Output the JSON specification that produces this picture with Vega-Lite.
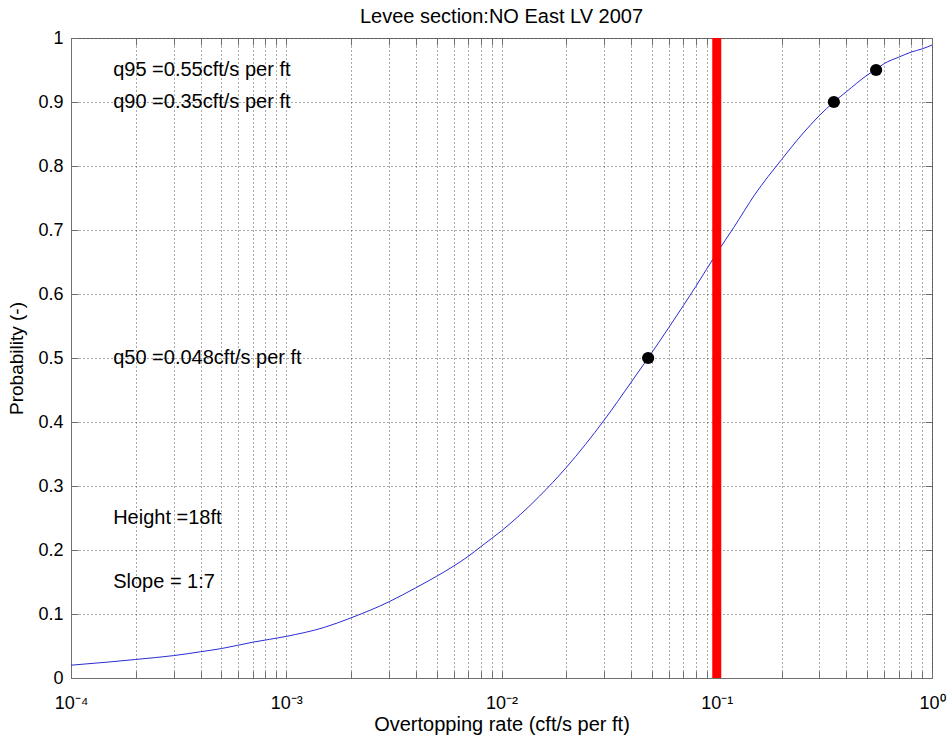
{
  "$schema": "https://vega.github.io/schema/vega-lite/v6.json",
  "width": 861,
  "height": 640,
  "autosize": {"type": "none"},
  "padding": {"left": 71, "top": 38, "right": 19, "bottom": 60},
  "background": "white",
  "config": {
    "view": {"stroke": "#707070", "strokeWidth": 1},
    "font": "Liberation Sans",
    "axis": {
      "labelFont": "Liberation Sans",
      "titleFont": "Liberation Sans",
      "labelColor": "black",
      "titleColor": "black",
      "titleFontWeight": "normal",
      "domainColor": "#707070",
      "tickColor": "#707070",
      "gridColor": "#404040",
      "gridDash": [1, 3],
      "gridOpacity": 0.9
    }
  },
  "title": {
    "text": "Levee section:NO East LV 2007",
    "font": "Liberation Sans",
    "fontSize": 20,
    "fontWeight": "normal",
    "color": "black",
    "offset": 2
  },
  "datasets": {
    "curve": [
      {"rate": 0.0001, "prob": 0.020},
      {"rate": 0.00015, "prob": 0.025},
      {"rate": 0.0002, "prob": 0.029},
      {"rate": 0.0003, "prob": 0.035},
      {"rate": 0.0004, "prob": 0.041},
      {"rate": 0.0005, "prob": 0.046},
      {"rate": 0.0007, "prob": 0.056},
      {"rate": 0.001, "prob": 0.065},
      {"rate": 0.0015, "prob": 0.079},
      {"rate": 0.002, "prob": 0.094},
      {"rate": 0.003, "prob": 0.119},
      {"rate": 0.004, "prob": 0.141},
      {"rate": 0.005, "prob": 0.159},
      {"rate": 0.006, "prob": 0.175},
      {"rate": 0.007, "prob": 0.190},
      {"rate": 0.008, "prob": 0.205},
      {"rate": 0.009, "prob": 0.218},
      {"rate": 0.01, "prob": 0.230},
      {"rate": 0.015, "prob": 0.284},
      {"rate": 0.02, "prob": 0.329},
      {"rate": 0.03, "prob": 0.403},
      {"rate": 0.04, "prob": 0.462},
      {"rate": 0.048, "prob": 0.500},
      {"rate": 0.06, "prob": 0.548},
      {"rate": 0.07, "prob": 0.582},
      {"rate": 0.08, "prob": 0.612},
      {"rate": 0.1, "prob": 0.664},
      {"rate": 0.12, "prob": 0.704},
      {"rate": 0.15, "prob": 0.755},
      {"rate": 0.2, "prob": 0.810},
      {"rate": 0.25, "prob": 0.850},
      {"rate": 0.3, "prob": 0.879},
      {"rate": 0.35, "prob": 0.9},
      {"rate": 0.4, "prob": 0.916},
      {"rate": 0.5, "prob": 0.942},
      {"rate": 0.55, "prob": 0.951},
      {"rate": 0.6, "prob": 0.960},
      {"rate": 0.7, "prob": 0.970},
      {"rate": 0.8, "prob": 0.978},
      {"rate": 0.9, "prob": 0.983},
      {"rate": 1.0, "prob": 0.989}
    ],
    "limit": [{"rate": 0.1}],
    "quantiles": [
      {"rate": 0.048, "prob": 0.5},
      {"rate": 0.35, "prob": 0.9},
      {"rate": 0.55, "prob": 0.95}
    ],
    "notes": [
      {"rate": 0.000157, "prob": 0.95, "label": "q95 =0.55cft/s per ft"},
      {"rate": 0.000157, "prob": 0.9, "label": "q90 =0.35cft/s per ft"},
      {"rate": 0.000157, "prob": 0.5, "label": "q50 =0.048cft/s per ft"},
      {"rate": 0.000157, "prob": 0.25, "label": "Height =18ft"},
      {"rate": 0.000157, "prob": 0.15, "label": "Slope = 1:7"}
    ]
  },
  "resolve": {"axis": {"x": "independent", "y": "independent"}},
  "layer": [
    {
      "data": {"name": "curve"},
      "mark": {"type": "line", "color": "#2b2bd6", "strokeWidth": 1, "interpolate": "monotone"},
      "encoding": {
        "x": {
          "field": "rate", "type": "quantitative",
          "scale": {"type": "log", "domain": [0.0001, 1], "nice": false},
          "axis": {
            "orient": "bottom",
            "title": "Overtopping rate (cft/s per ft)",
            "titleFontSize": 20,
            "titlePadding": 2,
            "labelFontSize": 18,
            "labelPadding": 23,
            "labelFlush": false,
            "tickSize": -7,
            "grid": true,
            "values": [0.0001,0.0002,0.0003,0.0004,0.0005,0.0006,0.0007,0.0008,0.0009,0.001,0.002,0.003,0.004,0.005,0.006,0.007,0.008,0.009,0.01,0.02,0.03,0.04,0.05,0.06,0.07,0.08,0.09,0.1,0.2,0.3,0.4,0.5,0.6,0.7,0.8,0.9,1],
            "labelExpr": "datum.value === 0.0001 ? '10⁻⁴' : datum.value === 0.001 ? '10⁻³' : datum.value === 0.01 ? '10⁻²' : datum.value === 0.1 ? '10⁻¹' : datum.value === 1 ? '10⁰' : ''",
            "labelOverlap": false
          }
        },
        "y": {
          "field": "prob", "type": "quantitative",
          "scale": {"domain": [0, 1], "nice": false},
          "axis": {
            "orient": "left",
            "title": "Probability (-)",
            "titleFontSize": 19,
            "titlePadding": 11,
            "labelFontSize": 18,
            "labelPadding": 15,
            "tickSize": -7,
            "grid": true,
            "values": [0,0.1,0.2,0.3,0.4,0.5,0.6,0.7,0.8,0.9,1],
            "format": ".1~f"
          }
        }
      }
    },
    {
      "data": {"name": "limit"},
      "mark": {"type": "rule", "color": "#ff0000", "strokeWidth": 9},
      "encoding": {
        "x": {"field": "rate", "type": "quantitative", "axis": null}
      }
    },
    {
      "data": {"name": "quantiles"},
      "mark": {"type": "point", "filled": true, "color": "black", "opacity": 1, "size": 150},
      "encoding": {
        "x": {
          "field": "rate", "type": "quantitative",
          "axis": {
            "orient": "top", "labels": false, "grid": false, "domain": false, "title": null,
            "tickSize": -7,
            "values": [0.0001,0.0002,0.0003,0.0004,0.0005,0.0006,0.0007,0.0008,0.0009,0.001,0.002,0.003,0.004,0.005,0.006,0.007,0.008,0.009,0.01,0.02,0.03,0.04,0.05,0.06,0.07,0.08,0.09,0.1,0.2,0.3,0.4,0.5,0.6,0.7,0.8,0.9,1]
          }
        },
        "y": {
          "field": "prob", "type": "quantitative",
          "axis": {
            "orient": "right", "labels": false, "grid": false, "domain": false, "title": null,
            "tickSize": -7,
            "values": [0,0.1,0.2,0.3,0.4,0.5,0.6,0.7,0.8,0.9,1]
          }
        }
      }
    },
    {
      "data": {"name": "notes"},
      "mark": {"type": "text", "align": "left", "baseline": "middle", "fontSize": 20, "font": "Liberation Sans", "color": "black"},
      "encoding": {
        "x": {"field": "rate", "type": "quantitative", "axis": null},
        "y": {"field": "prob", "type": "quantitative", "axis": null},
        "text": {"field": "label"}
      }
    }
  ]
}
